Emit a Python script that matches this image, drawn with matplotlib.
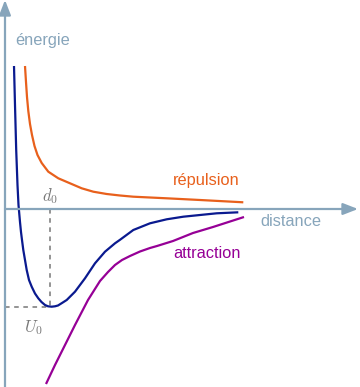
"""
Lennard-Jones style sketch: repulsion, attraction and total potential energy.
"""

import matplotlib
matplotlib.use("Agg")
import matplotlib.pyplot as plt

# distance / energy readings (origin at the axes crossing)
rep_d = [20, 21, 22, 23.3, 25, 27, 29.5, 32.5, 36.7, 43.3, 53.3, 65, 76.7,
         88.3, 101.7, 115, 128.3, 161.7, 195, 238.3]
rep_e = [143, 127, 112, 98, 85, 74, 63, 54, 46, 37.3, 30.7, 25.7, 20.7,
         17.3, 15, 13.5, 12.3, 10.7, 9, 6.7]

tot_d = [9, 10, 11.2, 12.5, 13.5, 15, 16, 17, 18.3, 20, 21.7, 24, 26.7, 30,
         33.3, 36.5, 40, 43, 46.7, 50, 53, 57, 61.7, 70, 80, 90, 100, 110,
         115, 128.3, 145, 161.7, 178.3, 195, 211.7, 233.3]
tot_e = [143, 104, 59, 24, 4, -13, -23, -31, -41, -51, -61, -71, -77.7,
         -84.5, -89.3, -93, -96, -97.3, -97.7, -97.3, -96.5, -94, -91, -82.7,
         -69.3, -54.3, -42.7, -34.3, -30.8, -21, -14.3, -10.3, -7.7, -6,
         -4.3, -3.3]

att_d = [41, 50, 60, 70, 83, 95, 103, 110, 117, 125, 135, 145, 152, 168, 188,
         208, 239]
att_e = [-175, -156, -136, -116, -91, -72, -63, -56, -51, -47, -42.5, -39,
         -37, -32, -24, -18, -8]

d0 = 45
u0 = -97.5

axis_color = "#87a5bb"
c_rep = "#e8601c"
c_tot = "#0a1a8f"
c_att = "#960096"
c_dash = "#777777"

plt.rcParams["font.family"] = ["Liberation Sans", "DejaVu Sans"]
plt.rcParams["mathtext.fontset"] = "cm"

fig = plt.figure(figsize=(3.6, 3.87), dpi=100)
ax = fig.add_axes([0, 0, 1, 1])
ax.set_xlim(-5, 355)
ax.set_ylim(-178, 209)
ax.axis("off")

# axes with arrow heads
arrow = dict(arrowstyle="-|>,head_length=0.9,head_width=0.35", color=axis_color,
             lw=1.6, shrinkA=0, shrinkB=0)
ax.annotate("", xy=(0, 209), xytext=(0, -178), arrowprops=arrow)
ax.annotate("", xy=(353, 0), xytext=(0, 0), arrowprops=arrow)

# dashed guides for the minimum
ax.plot([d0, d0], [0, u0], ls=(0, (3, 3)), color=c_dash, lw=1.1)
ax.plot([0, d0], [u0, u0], ls=(0, (3, 3)), color=c_dash, lw=1.1)

ax.plot(rep_d, rep_e, color=c_rep, lw=1.6, solid_capstyle="butt",
        solid_joinstyle="round")
ax.plot(att_d, att_e, color=c_att, lw=1.6, solid_capstyle="butt",
        solid_joinstyle="round")
ax.plot(tot_d, tot_e, color=c_tot, lw=1.6, solid_capstyle="butt",
        solid_joinstyle="round")

ax.text(10, 168, "énergie", color=axis_color, fontsize=11.8, va="center")
ax.text(255, -13, "distance", color=axis_color, fontsize=11.8, va="center")
ax.text(168, 29, "répulsion", color=c_rep, fontsize=11.8, va="center")
ax.text(168, -44, "attraction", color=c_att, fontsize=11.8, va="center")
ax.text(d0, 13, r"$d_0$", color=c_dash, fontsize=12, ha="center", va="center")
ax.text(28, -119, r"$U_0$", color=c_dash, fontsize=12, ha="center", va="center")

fig.savefig("out.png", dpi=100)
